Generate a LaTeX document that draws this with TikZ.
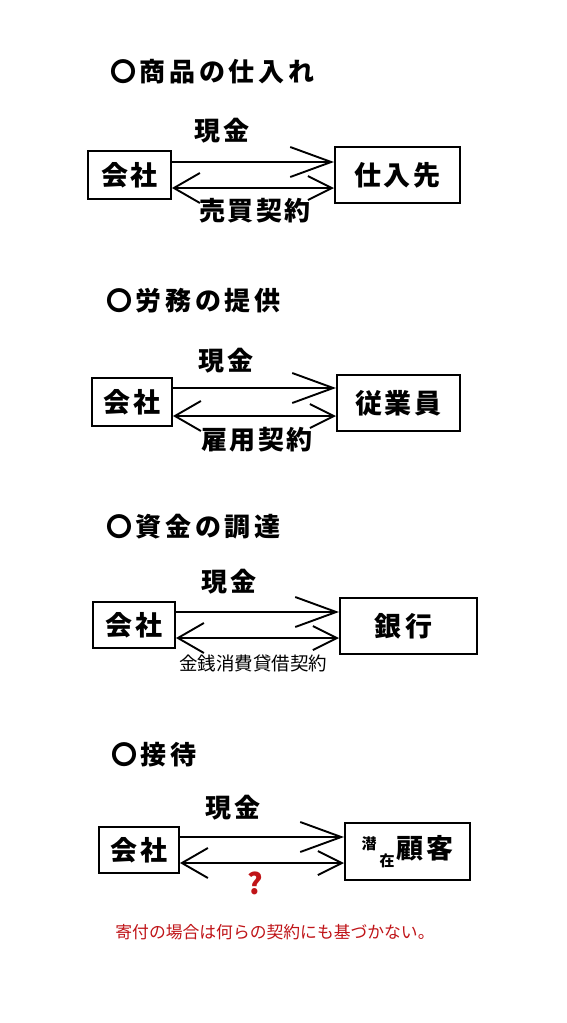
\documentclass[tikz,border=0pt]{standalone}
\usepackage{fontspec}
\usetikzlibrary{arrows.meta,calc}
\newfontfamily\jp{Noto Sans CJK JP}
\newfontfamily\jpT{Noto Sans CJK JP}[LetterSpace=14]
\newfontfamily\jpB{Noto Sans CJK JP}[LetterSpace=10]
\definecolor{redtxt}{RGB}{192,20,24}
\tikzset{
  box/.style={draw, line width=2pt, inner sep=0pt, font=\jpB\bfseries\fontsize{27}{30}\selectfont},
  title/.style={anchor=west, inner sep=0pt, font=\jpT\bfseries\fontsize{26}{30}\selectfont},
  lbl/.style={inner sep=0pt, font=\jpB\bfseries\fontsize{26}{30}\selectfont},
  small/.style={inner sep=0pt, font=\jp\fontsize{18.5}{20}\selectfont},
  conn/.style={line width=1.9pt},
  toparr/.style={conn, -{Straight Barb[length=41pt,width=30pt,line width=1.9pt]}},
  botarr/.style={conn, {Straight Barb[length=26pt,width=30pt,line width=1.9pt]}-{Straight Barb[length=24pt,width=24pt,line width=1.9pt]}},
}
\begin{document}
\begin{tikzpicture}[x=1pt,y=-1pt]
\useasboundingbox[fill=white] (0,0) rectangle (567,1023);

% ---- Section 1
\node[title] (t1) at (110,72) {〇商品の仕入れ};
\node[box, minimum width=83pt, minimum height=48pt] (k1) at (129.5,175) {会社};
\node[box, minimum width=125pt, minimum height=56pt] (s1) at (397.5,175) {仕入先};
\coordinate (a1) at ($(k1.east)+(0,-13)$);
\coordinate (b1) at ($(k1.east)+(0,13)$);
\draw[toparr] (a1) -- (a1 -| s1.west);
\draw[botarr] (b1) -- (b1 -| s1.west);
\node[lbl] (m1) at (222,131) {現金};
\node[lbl] (c1) at (255,211) {売買契約};

% ---- Section 2
\node[title] (t2) at (106,301) {〇労務の提供};
\node[box, minimum width=80pt, minimum height=48pt] (k2) at (132,402) {会社};
\node[box, minimum width=123pt, minimum height=56pt] (s2) at (398.5,403) {従業員};
\coordinate (a2) at ($(k2.east)+(0,-14)$);
\coordinate (b2) at ($(k2.east)+(0,14)$);
\draw[toparr] (a2) -- (a2 -| s2.west);
\draw[botarr] (b2) -- (b2 -| s2.west);
\node[lbl] (m2) at (226,361) {現金};
\node[lbl] (c2) at (257,440) {雇用契約};

% ---- Section 3
\node[title] (t3) at (106,527) {〇資金の調達};
\node[box, minimum width=82pt, minimum height=46pt] (k3) at (134,625) {会社};
\node[box, minimum width=137pt, minimum height=56pt] (s3) at (408.5,626) {\hspace*{-10pt}銀\hspace{4pt}行};
\coordinate (a3) at ($(k3.east)+(0,-13)$);
\coordinate (b3) at ($(k3.east)+(0,13)$);
\draw[toparr] (a3) -- (a3 -| s3.west);
\draw[botarr] (b3) -- (b3 -| s3.west);
\node[lbl] (m3) at (229,582) {現金};
\node[small] (c3) at (253,663) {金銭消費貸借契約};

% ---- Section 4
\node[title] (t4) at (111,755) {〇接待};
\node[box, minimum width=80pt, minimum height=46pt] (k4) at (139,850) {会社};
\node[box, minimum width=125pt, minimum height=57pt] (s4) at (407.5,851.5)
  {{\jp\fontsize{15}{15}\selectfont\raisebox{9pt}{潜}\hspace{3pt}\raisebox{-8pt}{在}}\hspace{2pt}顧客};
\coordinate (a4) at ($(k4.east)+(0,-13)$);
\coordinate (b4) at ($(k4.east)+(0,13)$);
\draw[toparr] (a4) -- (a4 -| s4.west);
\draw[botarr] (b4) -- (b4 -| s4.west);
\node[lbl] (m4) at (233,808) {現金};
\node[inner sep=0pt, text=redtxt, font=\jp\bfseries\fontsize{29}{30}\selectfont] (q4) at (255,883) {?};
\node[inner sep=0pt, text=redtxt, font=\jp\fontsize{16.8}{18}\selectfont] (note) at (275,932) {寄付の場合は何らの契約にも基づかない。};
\end{tikzpicture}
\end{document}
